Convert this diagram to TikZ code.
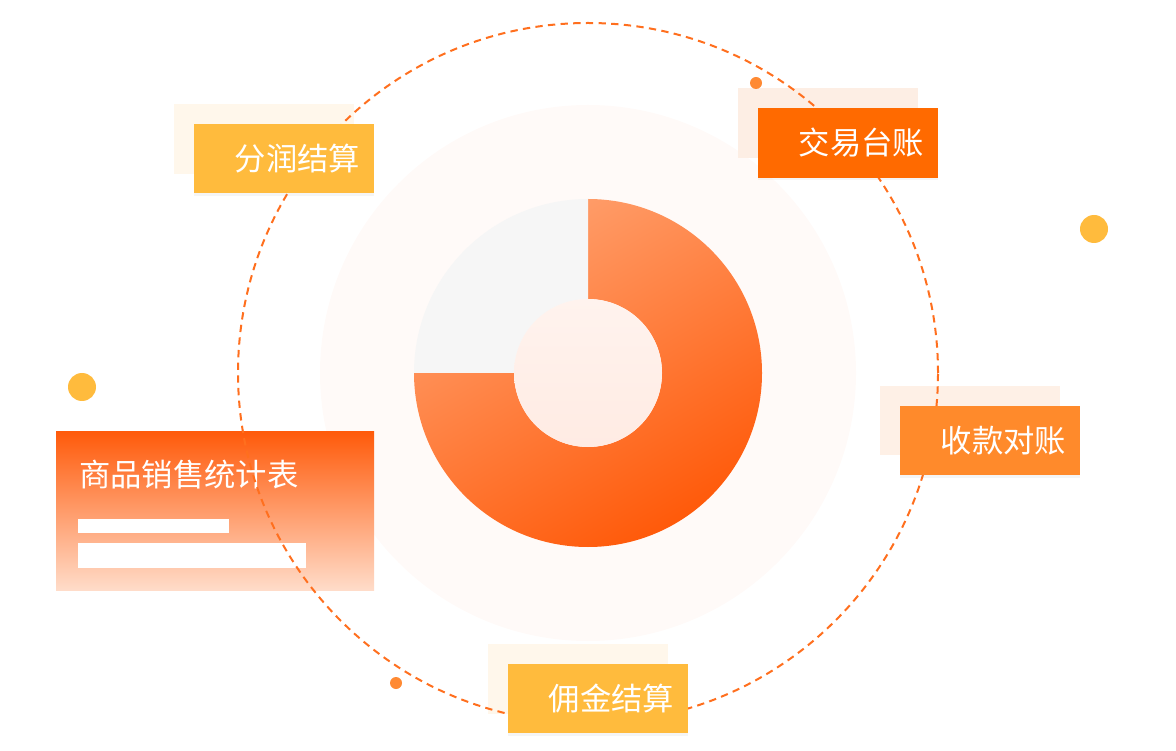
\documentclass[tikz,border=0pt]{standalone}
\usepackage{fontspec}
\newfontfamily\cjk{Noto Sans CJK SC}
\usetikzlibrary{positioning,calc,shadows}

\definecolor{tagyellow}{HTML}{FFBB3D}
\definecolor{tagred}{HTML}{FF6A00}
\definecolor{tagorange}{HTML}{FF8A2B}
\definecolor{bgyellow}{HTML}{FFF7EB}
\definecolor{bgred}{HTML}{FDEEE4}
\definecolor{bgorange}{HTML}{FEF0E6}
\definecolor{ringline}{HTML}{FF6F1E}
\definecolor{dotorange}{HTML}{FF8A33}
\definecolor{halo}{HTML}{FFFAF8}
\definecolor{donutgray}{HTML}{F6F6F6}
\definecolor{donutlight}{HTML}{FFA06E}
\definecolor{donutdark}{HTML}{FF5A0A}
\definecolor{holetop}{HTML}{FFF3EE}
\definecolor{holebottom}{HTML}{FFEBE3}
\definecolor{cardtop}{HTML}{FF5A0A}
\definecolor{cardbottom}{HTML}{FFDCC9}

\tikzset{
  tag/.style={text=white, minimum height=52pt, inner xsep=10.5pt, text width=114pt,
    align=right, font=\cjk\fontsize{23.5pt}{28pt}\selectfont,
    drop shadow={shadow xshift=0pt, shadow yshift=-2pt, opacity=0.08}},
  tagbg/.style={minimum width=135pt, minimum height=52pt},
  bar/.style={fill=white, inner sep=0pt, anchor=west}
}

\begin{document}
\begin{tikzpicture}[x=0.75pt,y=0.75pt]
        \useasboundingbox (0,0) rectangle (1176,750);
        \coordinate (c) at (588,377);

        % halo and donut
        \fill[halo] (c) circle (268);
        \shade[top color=donutlight, bottom color=donutdark, shading angle=30]
            ([shift={(90:174)}]c) arc[start angle=90, end angle=-180, radius=174]
            -- ([shift={(180:74)}]c) arc[start angle=-180, end angle=90, radius=74] -- cycle;
        \fill[donutgray]
            ([shift={(90:174)}]c) arc[start angle=90, end angle=180, radius=174]
            -- ([shift={(180:74)}]c) arc[start angle=180, end angle=90, radius=74] -- cycle;
        \shade[top color=holetop, bottom color=holebottom] (c) circle (74);

        % back boxes
        \node (fenrunbg) [tagbg, fill=bgyellow] at (264,611) {};
        \node (jiaoyibg) [tagbg, fill=bgred] at (828,627) {};
        \node (shoukuanbg) [tagbg, fill=bgorange] at (970,329.5) {};
        \node (yongjinbg) [tagbg, fill=bgyellow] at (578,71) {};

        % card
        \node (card) [top color=cardtop, bottom color=cardbottom, minimum width=238.5pt,
            minimum height=119.25pt] at (215,239.5) {};
        \node (cardlab) [anchor=west, inner sep=0pt, text=white,
            font=\cjk\fontsize{23.5pt}{28pt}\selectfont] at (79,275) {商品销售统计表};
        \node (bara) [bar, minimum width=113.25pt, minimum height=10.5pt] at (78,224) {};
        \node (barb) [bar, minimum width=171pt, minimum height=18.75pt] at (78,194.5) {};

        % ring
        \draw[ringline, line width=1.5pt, dash pattern=on 5.5pt off 4pt] (c) circle (350);

        % tags
        \node (fenrun) [tag, fill=tagyellow] at (284,591.5) {分润结算};
        \node (jiaoyi) [tag, fill=tagred] at (848,607) {交易台账};
        \node (shoukuan) [tag, fill=tagorange] at (990,309.5) {收款对账};
        \node (yongjin) [tag, fill=tagyellow] at (598,51.5) {佣金结算};

        % dots
        \fill[dotorange] (756,667) circle (6);
        \fill[dotorange] (396,67) circle (6);
        \fill[tagyellow] (1094,521) circle (14);
        \fill[tagyellow] (82,363) circle (14);

    \end{tikzpicture}
\end{document}
